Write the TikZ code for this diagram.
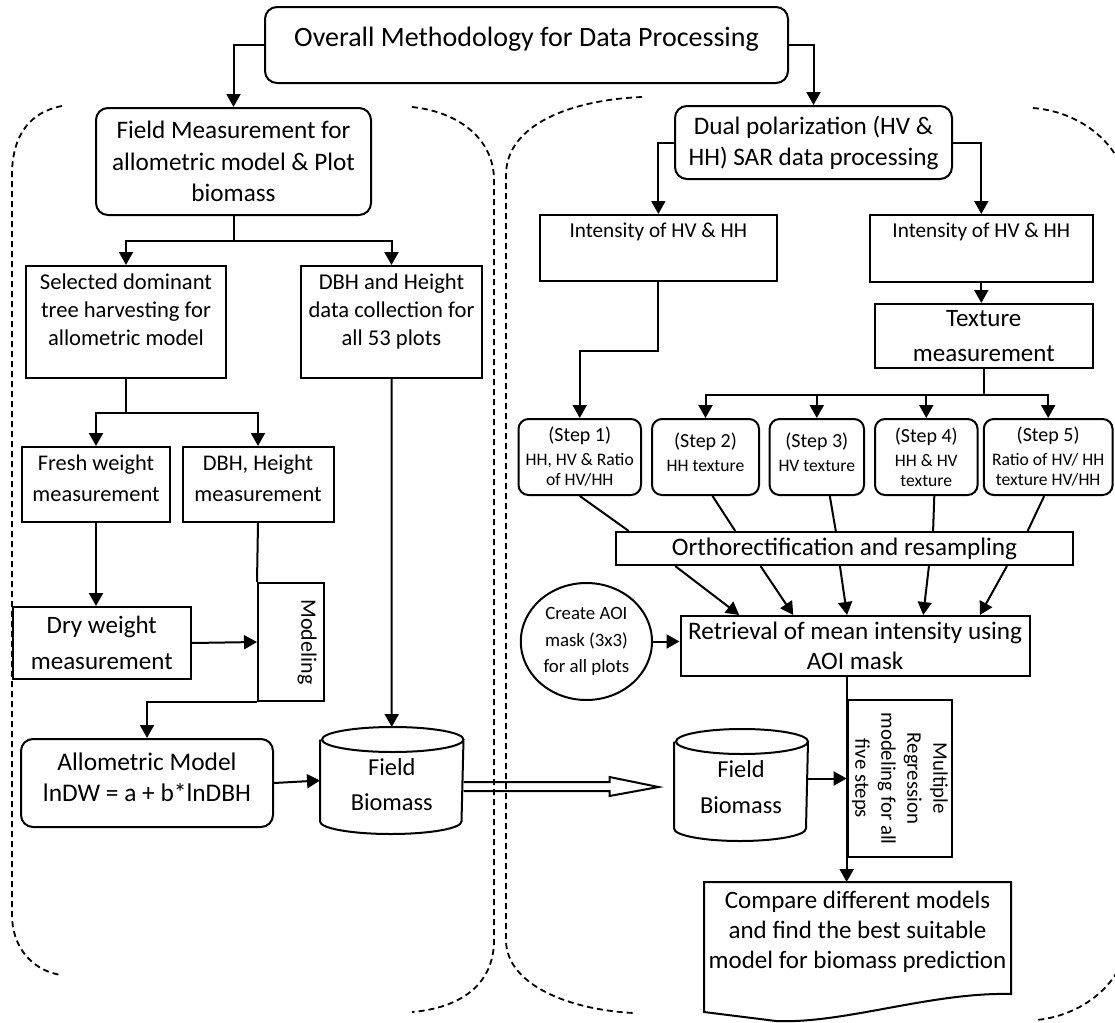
\documentclass[tikz,border=0pt]{standalone}
\usepackage{fontspec}
\setmainfont{Carlito}
\usepackage{graphicx}
\usetikzlibrary{arrows.meta,shapes.geometric,calc,positioning}

\newcommand{\fs}[2]{\fontsize{#1}{#2}\selectfont}

\begin{document}
\begin{tikzpicture}[x=0.5pt, y=-0.5pt, line width=1pt,
  box/.style = {draw, rectangle, inner sep=0pt, align=center},
  rbox/.style = {box, rounded corners=6pt},
  stepbox/.style = {box, rounded corners=5pt, minimum height=38pt, font=\fs{8.8}{10}},
  cyl/.style = {rectangle, inner sep=0pt, align=center},
  arr/.style = {-{Triangle[length=6.5pt,width=7pt]}},
  region/.style = {line width=0.9pt, dash pattern=on 3pt off 2pt}]
\useasboundingbox (0,0) rectangle (1115,1023);
\clip (0,0) rectangle (1115,1023);

\node[rbox, minimum width=261.5pt, minimum height=38pt, font=\fs{14}{17}] (title) at (526.5,45) {Overall Methodology for Data Processing\\[-9pt]~};
\node[rbox, minimum width=137.5pt, minimum height=53.5pt, font=\fs{12.6}{15.75}] (field) at (233.5,161.5) {Field Measurement for\\allometric model \& Plot\\biomass};
\node[rbox, minimum width=138.5pt, minimum height=36.5pt, font=\fs{12.6}{15.5}] (dual) at (813.5,142.5) {Dual polarization (HV \&\\HH) SAR data processing};

\node[box, minimum width=100pt, minimum height=56pt, font=\fs{11.3}{14}] (sel) at (126,322) {Selected dominant\\tree harvesting for\\allometric model\\[-2pt]~};
\node[box, minimum width=90.5pt, minimum height=56pt, font=\fs{11.3}{14}] (dbhh) at (391.5,322) {DBH and Height\\data collection for\\all 53 plots\\[-2pt]~};
\node[box, minimum width=74pt, minimum height=37.5pt, font=\fs{11.2}{15.5}] (fresh) at (96,484.5) {Fresh weight\\measurement\\[-9.5pt]~};
\node[box, minimum width=75.5pt, minimum height=37.5pt, font=\fs{11.2}{15.5}] (dbhm) at (258,484.5) {DBH, Height\\measurement\\[-9.5pt]~};
\node[box, minimum width=89.25pt, minimum height=36pt, font=\fs{12.5}{18}] (dry) at (101.75,643) {Dry weight\\measurement};
\node[box, minimum width=33pt, minimum height=59pt, font=\fs{11}{13}] (modl) at (291,642) {\hspace*{16pt}\rotatebox{-90}{Modeling}};
\node[rbox, minimum width=126pt, minimum height=44pt, font=\fs{12.7}{15.5}] (allo) at (147,783) {Allometric Model\\lnDW = a + b*lnDBH\\[-10pt]~};
\node[cyl, minimum width=70.75pt, minimum height=40pt, font=\fs{12.2}{17.5}] (bio1) at (391.75,780.5) {\mbox{}\\[-4.6pt]Field\\Biomass};

\node[box, minimum width=118.65pt, minimum height=33pt, font=\fs{10.6}{13}] (int1) at (658.35,248) {Intensity of HV \& HH\\[5pt]~};
\node[box, minimum width=111.7pt, minimum height=33.5pt, font=\fs{10.6}{13}] (int2) at (981.3,248.5) {Intensity of HV \& HH\\[5pt]~};
\node[box, minimum width=108.75pt, minimum height=32pt, font=\fs{12.5}{17.5}] (tex) at (983.75,336) {Texture\\measurement};

\node[stepbox, minimum width=61.25pt] (st1) at (579.75,457) {{\fs{10}{12}(Step 1)}\\[2pt]HH, HV \& Ratio\\of HV/HH};
\node[stepbox, minimum width=53.5pt] (st2) at (705.5,457) {{\fs{10}{12}(Step 2)}\\[2pt]HH texture\\[-5pt]~};
\node[stepbox, minimum width=47.2pt] (st3) at (816.8,457) {{\fs{10}{12}(Step 3)}\\[2pt]HV texture\\[-5pt]~};
\node[stepbox, minimum width=51.3pt] (st4) at (926.3,457) {{\fs{10}{12}(Step 4)}\\[2pt]HH \& HV\\texture};
\node[stepbox, minimum width=64.4pt] (st5) at (1048.2,457) {{\fs{10}{12}(Step 5)}\\[2pt]Ratio of HV/ HH\\texture HV/HH};

\node[box, minimum width=228.5pt, minimum height=16.5pt, font=\fs{12.6}{15}] (ortho) at (844.5,548.5) {Orthorectification and resampling};
\node[box, minimum width=174.6pt, minimum height=30pt, font=\fs{12.6}{15}] (retr) at (855.1,646) {Retrieval of mean intensity using\\AOI mask};
\node[draw, ellipse, inner sep=0pt, minimum width=65.6pt, minimum height=58.5pt, align=center, font=\fs{9.4}{13.3}] (aoi) at (586.4,641.5) {Create AOI\\mask (3x3)\\for all plots};
\node[cyl, minimum width=66pt, minimum height=42.5pt, font=\fs{12.2}{18}] (bio2) at (741,785) {\mbox{}\\[-7.2pt]Field\\Biomass};
\node[box, minimum width=52pt, minimum height=78.5pt, font=\fs{10.4}{13}] (mreg) at (899.65,778.5) {\rotatebox{-90}{\begin{tabular}{@{}c@{}}Multiple\\Regression\\modeling for all\\five steps\end{tabular}}};
\node[cyl, minimum width=152.5pt, minimum height=49pt, font=\fs{12.5}{15}] (cmp) at (857.5,932) {Compare different models\\and find the best suitable\\model for biomass prediction};
\coordinate (tip) at (658.5,787);

\draw (bio1.north west) -- (bio1.south west) arc[start angle=180, end angle=360, x radius=35.375pt, y radius=6.25pt] -- (bio1.north east) arc[start angle=0, end angle=360, x radius=35.375pt, y radius=6.25pt];
\draw (bio2.north west) -- (bio2.south west) arc[start angle=180, end angle=360, x radius=33pt, y radius=6.25pt] -- (bio2.north east) arc[start angle=0, end angle=360, x radius=33pt, y radius=6.25pt];
\draw (cmp.north west) -- (cmp.north east) -- ($(cmp.north east)+(0,112)$) .. controls ($(cmp.north east)+(-80,110)$) and ($(cmp.north west)+(140,142)$) .. ($(cmp.north west)+(72,139)$) -- ($(cmp.north west)+(0,130)$) -- cycle;

\draw[arr] (title.west) -| (field.north);
\draw[arr] (title.east) -| (dual.north);
\draw[arr] (field.south) -- ++(0,25) -| (sel.north);
\draw[arr] (field.south) -- ++(0,25) -| (dbhh.north);
\draw[arr] (sel.south) -- ++(0,34) -| (fresh.north);
\draw[arr] (sel.south) -- ++(0,34) -| (dbhm.north);
\draw[arr] (dbhh.south) -- ([yshift=6.25pt]bio1.north);
\draw[arr] (fresh.south) -- (fresh.south |- dry.north);
\draw (dbhm.south) -- (modl.north west);
\draw[arr] (dry.east) -- (modl.west);
\draw[arr] (modl.south west) -| (allo.north);
\draw[arr] (allo.east) -- (bio1.west);
\draw ($(bio1.east |- tip)+(0,-5)$) -- ($(tip)+(-49,-5)$) -- ($(tip)+(-49,-10)$) -- (tip) -- ($(tip)+(-49,9)$) -- ($(tip)+(-49,4)$) -- ($(bio1.east |- tip)+(0,4)$);

\draw[arr] (dual.west) -| (int1.north);
\draw[arr] (dual.east) -| (int2.north);
\draw[arr] (int2.south) -- (int2.south |- tex.north);
\draw[arr] (int1.south) -- ++(0,69) -| (st1.north);
\foreach \s in {st2,st3,st4,st5}
  \draw[arr] (tex.south) -- ++(0,26) -| (\s.north);
\foreach \s/\d/\f in {st1/0/0.03, st2/3.5/0.262, st3/6.5/0.481, st4/4/0.693, st5/-2/0.899}
  \draw ([xshift=\d pt]\s.south) -- ($(ortho.north west)!\f!(ortho.north east)$);
\foreach \a/\b in {0.131/0.170, 0.317/0.324, 0.490/0.477, 0.684/0.694, 0.854/0.855}
  \draw[arr] ($(ortho.south west)!\a!(ortho.south east)$) -- ($(retr.north west)!\b!(retr.north east)$);
\draw[arr] (aoi.east) -- (aoi.east -| retr.west);
\draw[arr] (mreg.west |- retr.south) -- (mreg.west |- cmp.north);
\draw[arr] (bio2.east |- mreg.west) -- (mreg.west);

\draw[region] (62,106) .. controls (30,112) and (12,135) .. (12,175) -- (12,915) .. controls (12,945) and (30,970) .. (61,975);
\draw[region] (412,107) .. controls (460,112) and (494,140) .. (494,180) -- (494,940) .. controls (494,985) and (460,1008) .. (412,1012);
\draw[region] (642,97) .. controls (570,100) and (506,125) .. (506,175) -- (506,940) .. controls (506,985) and (570,1010) .. (634,1013);
\draw[region] (1033,108) .. controls (1085,112) and (1130,150) .. (1130,205) -- (1130,925) .. controls (1130,980) and (1085,1015) .. (1037,1020);
\end{tikzpicture}
\end{document}
